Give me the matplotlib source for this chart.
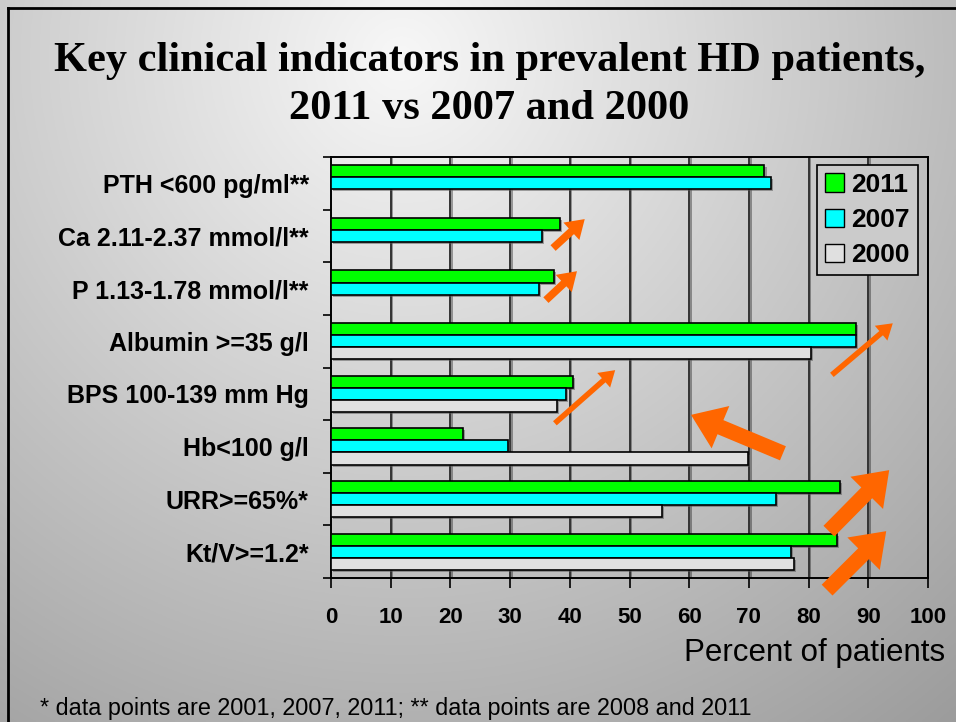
import numpy as np
import matplotlib
matplotlib.use("Agg")
import matplotlib.pyplot as plt
import matplotlib.patheffects as pe
from matplotlib.patches import FancyArrowPatch, Patch
from matplotlib.lines import Line2D

categories = ['PTH <600 pg/ml**', 'Ca 2.11-2.37 mmol/l**', 'P 1.13-1.78 mmol/l**',
              'Albumin >=35 g/l', 'BPS 100-139 mm Hg', 'Hb<100 g/l',
              'URR>=65%*', 'Kt/V>=1.2*']
v2011 = [72.6, 38.4, 37.4, 87.9, 40.6, 22.1, 85.2, 84.7]
v2007 = [73.7, 35.3, 34.8, 88.0, 39.4, 29.7, 74.6, 77.0]
v2000 = [None, None, None, 80.4, 37.9, 69.9, 55.5, 77.5]
years = ['2011', '2007', '2000']
colors = ['#00ff00', '#00ffff', '#e0e0e0']
xticks = list(range(0, 101, 10))

fig = plt.figure(figsize=(9.56, 7.22), dpi=100)

# slide background gradient
bg = fig.add_axes([0, 0, 1, 1], zorder=-10)
yy, xx = np.mgrid[0:1:300j, 0:1:400j]
d = np.sqrt(((xx - 0.42) * 1.32) ** 2 + (yy - 0.08) ** 2)
g = np.clip(0.97 - 0.30 * d, 0, 1)
bg.imshow(np.dstack([g, g, g]), extent=[0, 1, 0, 1], aspect='auto', origin='upper')
bg.axis('off')

# slide border
fig.add_artist(Line2D([8 / 956, 8 / 956], [0, 1 - 8 / 722], transform=fig.transFigure, color='black', lw=2))
fig.add_artist(Line2D([8 / 956, 1], [1 - 8 / 722, 1 - 8 / 722], transform=fig.transFigure, color='black', lw=2))

fig.text(0.512, 1 - 61 / 722, 'Key clinical indicators in prevalent HD patients,',
         ha='center', va='center', family='Liberation Serif', weight='bold', fontsize=30.5)
fig.text(0.512, 1 - 109 / 722, '2011 vs 2007 and 2000',
         ha='center', va='center', family='Liberation Serif', weight='bold', fontsize=30.5)

ax = fig.add_axes([331 / 956, 1 - 578 / 722, 597 / 956, 421 / 722])
ax.patch.set_alpha(0)

y = np.arange(len(categories))
h = 0.23
shadow = [pe.SimplePatchShadow(offset=(1.5, -1.5), shadow_rgbFace='#555555', alpha=0.5), pe.Normal()]
series = [v2011, v2007, v2000]
for k, (vals, col, lab) in enumerate(zip(series, colors, years)):
    idx = [i for i, v in enumerate(vals) if v is not None]
    ax.barh(y[idx] + (k - 1) * h, [vals[i] for i in idx], height=h, color=col,
            edgecolor='black', linewidth=1.2, zorder=3, path_effects=shadow)

for xv in xticks[1:]:
    ax.axvline(xv, color='#333333', lw=1.4, zorder=1,
               path_effects=[pe.SimpleLineShadow(offset=(1.2, -1), alpha=0.35), pe.Normal()])

ax.set_xlim(0, 100)
ax.set_ylim(len(categories) - 0.5, -0.5)
ax.set_xticks(xticks)
ax.set_xticklabels([str(t) for t in xticks], fontsize=16, weight='bold', family='Liberation Sans')
ax.set_yticks(y)
ax.set_yticklabels(categories, fontsize=18, weight='bold', family='Liberation Sans')
ax.set_yticks(np.arange(-0.5, len(categories), 1), minor=True)
ax.tick_params(axis='y', which='major', length=0, pad=16)
ax.tick_params(axis='y', which='minor', length=6, width=1.2, direction='out')
ax.tick_params(axis='x', length=7, width=1.2, direction='out', pad=14)
for s in ['left', 'bottom', 'top', 'right']:
    ax.spines[s].set_linewidth(1.4)

# trend arrows (tail -> head in data coords)
arrows = [
    ((37.2, 1.23), (42.5, 0.68), 'small'),
    ((36.0, 2.22), (41.2, 1.67), 'small'),
    ((83.9, 3.64), (94.1, 2.66), 'thin'),
    ((37.5, 4.56), (47.6, 3.55), 'thin'),
    ((75.7, 5.13), (60.3, 4.40), 'big'),
    ((83.4, 6.61), (93.5, 5.45), 'big'),
    ((83.1, 7.73), (93.0, 6.61), 'big'),
]
styles = {
    'small': 'simple,head_length=13,head_width=17,tail_width=5.5',
    'thin': 'simple,head_length=11,head_width=14,tail_width=4',
    'big': 'simple,head_length=23,head_width=33,tail_width=11',
}
for a, b, s in arrows:
    ax.add_patch(FancyArrowPatch(a, b, arrowstyle=styles[s], mutation_scale=1,
                                 color='#ff6600', lw=0, shrinkA=0, shrinkB=0,
                                 zorder=5, clip_on=False))

handles = [Patch(facecolor=c, edgecolor='black', label=l) for c, l in zip(colors, years)]
leg = ax.legend(handles=handles, loc='upper right', bbox_to_anchor=(0.983, 0.981),
                borderaxespad=0,
                prop={'family': 'Liberation Sans', 'weight': 'bold', 'size': 19},
                handlelength=0.7, handleheight=0.7, handletextpad=0.3,
                labelspacing=0.42, borderpad=0.3, fancybox=False,
                facecolor='#cbcbcb', edgecolor='black', framealpha=1)
leg.get_frame().set_linewidth(1.2)
leg.set_zorder(6)

fig.text(945 / 956, 1 - 653 / 722, 'Percent of patients', ha='right', va='center',
         family='Liberation Sans', fontsize=22.5)
fig.text(40 / 956, 1 - 708 / 722,
         '* data points are 2001, 2007, 2011; ** data points are 2008 and 2011',
         ha='left', va='center', family='Liberation Sans', fontsize=16.8)

fig.savefig('out.png', dpi=100)
